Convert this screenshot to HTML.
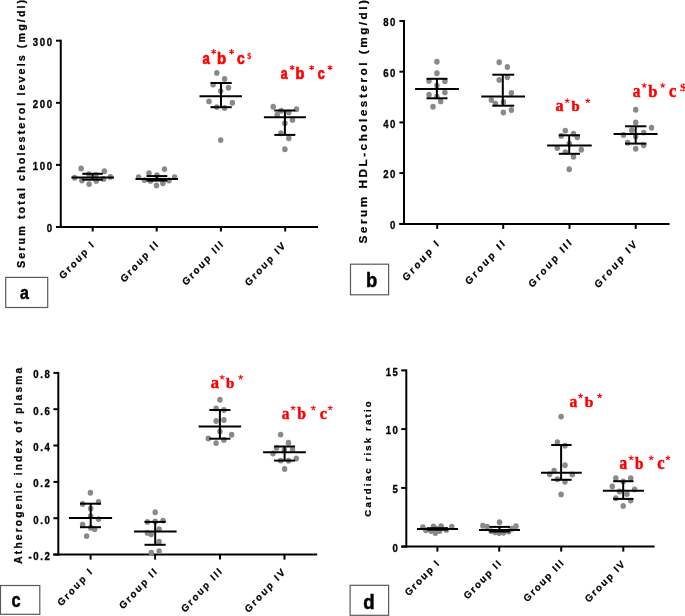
<!DOCTYPE html>
<html><head><meta charset="utf-8"><style>
html,body{margin:0;padding:0;background:#fff;}
body{width:685px;height:616px;overflow:hidden;}
svg{display:block;}
text{font-family:"Liberation Sans", sans-serif;font-weight:bold;}
.tk{font-size:9.6px;letter-spacing:1.6px;fill:#000;stroke:#000;stroke-width:0.3px;}
.gl{fill:#000;stroke:#000;stroke-width:0.25px;}
.yt{fill:#000;stroke:#000;stroke-width:0.25px;}
</style></head><body>
<svg width="685" height="616" viewBox="0 0 685 616" style="will-change:transform">
<line x1="60.75" y1="39.7" x2="60.75" y2="228.0" stroke="#000" stroke-width="2"/>
<line x1="56.0" y1="227.0" x2="318.0" y2="227.0" stroke="#000" stroke-width="2"/>
<line x1="56.0" y1="40.7" x2="60.75" y2="40.7" stroke="#000" stroke-width="2"/>
<text transform="translate(53.60,46.07) scale(1,1.08)" text-anchor="end" class="tk">300</text>
<line x1="56.0" y1="102.8" x2="60.75" y2="102.8" stroke="#000" stroke-width="2"/>
<text transform="translate(53.60,108.17) scale(1,1.08)" text-anchor="end" class="tk">200</text>
<line x1="56.0" y1="164.9" x2="60.75" y2="164.9" stroke="#000" stroke-width="2"/>
<text transform="translate(53.60,170.27) scale(1,1.08)" text-anchor="end" class="tk">100</text>
<line x1="56.0" y1="227.0" x2="60.75" y2="227.0" stroke="#000" stroke-width="2"/>
<text transform="translate(53.60,232.37) scale(1,1.08)" text-anchor="end" class="tk">0</text>
<line x1="92.7" y1="227.0" x2="92.7" y2="231.5" stroke="#000" stroke-width="2"/>
<line x1="156.7" y1="227.0" x2="156.7" y2="231.5" stroke="#000" stroke-width="2"/>
<line x1="220.9" y1="227.0" x2="220.9" y2="231.5" stroke="#000" stroke-width="2"/>
<line x1="285.2" y1="227.0" x2="285.2" y2="231.5" stroke="#000" stroke-width="2"/>
<ellipse cx="81.1" cy="168.4" rx="2.75" ry="2.94" fill="#898989"/>
<ellipse cx="104.4" cy="171.2" rx="2.75" ry="2.94" fill="#898989"/>
<ellipse cx="74.6" cy="177.7" rx="2.75" ry="2.94" fill="#898989"/>
<ellipse cx="110.4" cy="176.9" rx="2.75" ry="2.94" fill="#898989"/>
<ellipse cx="88.7" cy="174.1" rx="2.75" ry="2.94" fill="#898989"/>
<ellipse cx="95.9" cy="174.9" rx="2.75" ry="2.94" fill="#898989"/>
<ellipse cx="81.9" cy="180.5" rx="2.75" ry="2.94" fill="#898989"/>
<ellipse cx="89.1" cy="184.1" rx="2.75" ry="2.94" fill="#898989"/>
<ellipse cx="96.3" cy="180.9" rx="2.75" ry="2.94" fill="#898989"/>
<ellipse cx="103.6" cy="178.9" rx="2.75" ry="2.94" fill="#898989"/>
<ellipse cx="164.5" cy="169.1" rx="2.75" ry="2.94" fill="#898989"/>
<ellipse cx="149.0" cy="173.1" rx="2.75" ry="2.94" fill="#898989"/>
<ellipse cx="156.9" cy="175.3" rx="2.75" ry="2.94" fill="#898989"/>
<ellipse cx="138.6" cy="177.1" rx="2.75" ry="2.94" fill="#898989"/>
<ellipse cx="174.6" cy="177.1" rx="2.75" ry="2.94" fill="#898989"/>
<ellipse cx="144.5" cy="180.1" rx="2.75" ry="2.94" fill="#898989"/>
<ellipse cx="150.5" cy="180.9" rx="2.75" ry="2.94" fill="#898989"/>
<ellipse cx="169.0" cy="180.5" rx="2.75" ry="2.94" fill="#898989"/>
<ellipse cx="162.9" cy="183.3" rx="2.75" ry="2.94" fill="#898989"/>
<ellipse cx="156.5" cy="185.5" rx="2.75" ry="2.94" fill="#898989"/>
<ellipse cx="216.8" cy="72.9" rx="2.75" ry="2.94" fill="#898989"/>
<ellipse cx="224.6" cy="79.0" rx="2.75" ry="2.94" fill="#898989"/>
<ellipse cx="213.1" cy="84.6" rx="2.75" ry="2.94" fill="#898989"/>
<ellipse cx="228.5" cy="87.8" rx="2.75" ry="2.94" fill="#898989"/>
<ellipse cx="220.7" cy="91.1" rx="2.75" ry="2.94" fill="#898989"/>
<ellipse cx="209.0" cy="101.4" rx="2.75" ry="2.94" fill="#898989"/>
<ellipse cx="232.4" cy="102.7" rx="2.75" ry="2.94" fill="#898989"/>
<ellipse cx="216.8" cy="107.1" rx="2.75" ry="2.94" fill="#898989"/>
<ellipse cx="224.6" cy="108.0" rx="2.75" ry="2.94" fill="#898989"/>
<ellipse cx="220.7" cy="140.1" rx="2.75" ry="2.94" fill="#898989"/>
<ellipse cx="273.2" cy="106.8" rx="2.75" ry="2.94" fill="#898989"/>
<ellipse cx="281.1" cy="110.7" rx="2.75" ry="2.94" fill="#898989"/>
<ellipse cx="288.8" cy="112.4" rx="2.75" ry="2.94" fill="#898989"/>
<ellipse cx="296.5" cy="109.3" rx="2.75" ry="2.94" fill="#898989"/>
<ellipse cx="277.2" cy="114.7" rx="2.75" ry="2.94" fill="#898989"/>
<ellipse cx="292.5" cy="119.9" rx="2.75" ry="2.94" fill="#898989"/>
<ellipse cx="284.9" cy="123.3" rx="2.75" ry="2.94" fill="#898989"/>
<ellipse cx="280.9" cy="133.2" rx="2.75" ry="2.94" fill="#898989"/>
<ellipse cx="288.8" cy="138.3" rx="2.75" ry="2.94" fill="#898989"/>
<ellipse cx="284.9" cy="149.3" rx="2.75" ry="2.94" fill="#898989"/>
<line x1="71.4" y1="177.4" x2="114.0" y2="177.4" stroke="#000" stroke-width="2"/>
<line x1="82.3" y1="173.8" x2="102.8" y2="173.8" stroke="#000" stroke-width="2"/>
<line x1="82.3" y1="179.7" x2="102.8" y2="179.7" stroke="#000" stroke-width="2"/>
<line x1="92.5" y1="173.8" x2="92.5" y2="179.7" stroke="#000" stroke-width="2"/>
<line x1="135.5" y1="179.0" x2="178.0" y2="179.0" stroke="#000" stroke-width="2"/>
<line x1="146.5" y1="176.1" x2="167.3" y2="176.1" stroke="#000" stroke-width="2"/>
<line x1="146.5" y1="180.6" x2="167.3" y2="180.6" stroke="#000" stroke-width="2"/>
<line x1="156.9" y1="176.1" x2="156.9" y2="180.6" stroke="#000" stroke-width="2"/>
<line x1="199.5" y1="96.3" x2="241.9" y2="96.3" stroke="#000" stroke-width="2"/>
<line x1="210.5" y1="83.0" x2="231.7" y2="83.0" stroke="#000" stroke-width="2"/>
<line x1="210.5" y1="107.2" x2="231.7" y2="107.2" stroke="#000" stroke-width="2"/>
<line x1="221.0" y1="83.0" x2="221.0" y2="107.2" stroke="#000" stroke-width="2"/>
<line x1="263.9" y1="117.3" x2="305.9" y2="117.3" stroke="#000" stroke-width="2"/>
<line x1="274.3" y1="110.5" x2="295.3" y2="110.5" stroke="#000" stroke-width="2"/>
<line x1="274.3" y1="134.9" x2="295.3" y2="134.9" stroke="#000" stroke-width="2"/>
<line x1="284.9" y1="110.5" x2="284.9" y2="134.9" stroke="#000" stroke-width="2"/>
<text transform="translate(95.60,244.65) scale(1,1.08) rotate(-45)" text-anchor="end" style="font-size:9.4px;letter-spacing:1.8px" class="gl">Group I</text>
<text transform="translate(159.80,244.50) scale(1,1.08) rotate(-45)" text-anchor="end" style="font-size:9.4px;letter-spacing:1.8px" class="gl">Group II</text>
<text transform="translate(224.75,244.25) scale(1,1.08) rotate(-45)" text-anchor="end" style="font-size:9.4px;letter-spacing:1.8px" class="gl">Group III</text>
<text transform="translate(286.95,245.40) scale(1,1.08) rotate(-45)" text-anchor="end" style="font-size:9.4px;letter-spacing:1.8px" class="gl">Group IV</text>
<text transform="translate(24.50,268.00) scale(1,1.0) rotate(-90)" style="font-size:10.8px;letter-spacing:2.06px" class="yt">Serum total cholesterol levels (mg/dl)</text>
<line x1="404.0" y1="20.0" x2="404.0" y2="224.9" stroke="#000" stroke-width="2"/>
<line x1="399.4" y1="223.9" x2="669.6" y2="223.9" stroke="#000" stroke-width="2"/>
<line x1="399.4" y1="21.0" x2="404.0" y2="21.0" stroke="#000" stroke-width="2"/>
<text transform="translate(397.00,26.37) scale(1,1.08)" text-anchor="end" class="tk">80</text>
<line x1="399.4" y1="71.7" x2="404.0" y2="71.7" stroke="#000" stroke-width="2"/>
<text transform="translate(397.00,77.07) scale(1,1.08)" text-anchor="end" class="tk">60</text>
<line x1="399.4" y1="122.4" x2="404.0" y2="122.4" stroke="#000" stroke-width="2"/>
<text transform="translate(397.00,127.77) scale(1,1.08)" text-anchor="end" class="tk">40</text>
<line x1="399.4" y1="173.1" x2="404.0" y2="173.1" stroke="#000" stroke-width="2"/>
<text transform="translate(397.00,178.47) scale(1,1.08)" text-anchor="end" class="tk">20</text>
<line x1="399.4" y1="223.9" x2="404.0" y2="223.9" stroke="#000" stroke-width="2"/>
<text transform="translate(397.00,229.27) scale(1,1.08)" text-anchor="end" class="tk">0</text>
<line x1="437.2" y1="223.9" x2="437.2" y2="228.9" stroke="#000" stroke-width="2"/>
<line x1="503.2" y1="223.9" x2="503.2" y2="228.9" stroke="#000" stroke-width="2"/>
<line x1="569.5" y1="223.9" x2="569.5" y2="228.9" stroke="#000" stroke-width="2"/>
<line x1="635.7" y1="223.9" x2="635.7" y2="228.9" stroke="#000" stroke-width="2"/>
<ellipse cx="436.9" cy="61.7" rx="2.75" ry="2.94" fill="#898989"/>
<ellipse cx="436.9" cy="73.3" rx="2.75" ry="2.94" fill="#898989"/>
<ellipse cx="429.0" cy="80.9" rx="2.75" ry="2.94" fill="#898989"/>
<ellipse cx="444.9" cy="81.3" rx="2.75" ry="2.94" fill="#898989"/>
<ellipse cx="436.9" cy="85.6" rx="2.75" ry="2.94" fill="#898989"/>
<ellipse cx="444.9" cy="92.4" rx="2.75" ry="2.94" fill="#898989"/>
<ellipse cx="429.0" cy="94.7" rx="2.75" ry="2.94" fill="#898989"/>
<ellipse cx="436.9" cy="96.6" rx="2.75" ry="2.94" fill="#898989"/>
<ellipse cx="440.7" cy="101.4" rx="2.75" ry="2.94" fill="#898989"/>
<ellipse cx="433.0" cy="106.8" rx="2.75" ry="2.94" fill="#898989"/>
<ellipse cx="499.2" cy="62.3" rx="2.75" ry="2.94" fill="#898989"/>
<ellipse cx="507.4" cy="67.0" rx="2.75" ry="2.94" fill="#898989"/>
<ellipse cx="499.2" cy="79.9" rx="2.75" ry="2.94" fill="#898989"/>
<ellipse cx="507.4" cy="77.3" rx="2.75" ry="2.94" fill="#898989"/>
<ellipse cx="511.4" cy="93.0" rx="2.75" ry="2.94" fill="#898989"/>
<ellipse cx="491.3" cy="100.0" rx="2.75" ry="2.94" fill="#898989"/>
<ellipse cx="495.5" cy="103.6" rx="2.75" ry="2.94" fill="#898989"/>
<ellipse cx="503.4" cy="102.0" rx="2.75" ry="2.94" fill="#898989"/>
<ellipse cx="511.4" cy="110.0" rx="2.75" ry="2.94" fill="#898989"/>
<ellipse cx="503.4" cy="112.5" rx="2.75" ry="2.94" fill="#898989"/>
<ellipse cx="565.3" cy="130.7" rx="2.75" ry="2.94" fill="#898989"/>
<ellipse cx="573.5" cy="133.7" rx="2.75" ry="2.94" fill="#898989"/>
<ellipse cx="561.2" cy="135.9" rx="2.75" ry="2.94" fill="#898989"/>
<ellipse cx="577.3" cy="137.2" rx="2.75" ry="2.94" fill="#898989"/>
<ellipse cx="569.2" cy="143.7" rx="2.75" ry="2.94" fill="#898989"/>
<ellipse cx="557.3" cy="148.0" rx="2.75" ry="2.94" fill="#898989"/>
<ellipse cx="581.3" cy="149.8" rx="2.75" ry="2.94" fill="#898989"/>
<ellipse cx="565.3" cy="152.1" rx="2.75" ry="2.94" fill="#898989"/>
<ellipse cx="573.5" cy="156.7" rx="2.75" ry="2.94" fill="#898989"/>
<ellipse cx="569.2" cy="169.3" rx="2.75" ry="2.94" fill="#898989"/>
<ellipse cx="635.7" cy="109.7" rx="2.75" ry="2.94" fill="#898989"/>
<ellipse cx="635.7" cy="122.4" rx="2.75" ry="2.94" fill="#898989"/>
<ellipse cx="651.5" cy="127.8" rx="2.75" ry="2.94" fill="#898989"/>
<ellipse cx="631.8" cy="130.2" rx="2.75" ry="2.94" fill="#898989"/>
<ellipse cx="643.7" cy="132.6" rx="2.75" ry="2.94" fill="#898989"/>
<ellipse cx="623.5" cy="134.9" rx="2.75" ry="2.94" fill="#898989"/>
<ellipse cx="635.7" cy="136.5" rx="2.75" ry="2.94" fill="#898989"/>
<ellipse cx="627.6" cy="142.8" rx="2.75" ry="2.94" fill="#898989"/>
<ellipse cx="643.7" cy="145.3" rx="2.75" ry="2.94" fill="#898989"/>
<ellipse cx="635.7" cy="148.7" rx="2.75" ry="2.94" fill="#898989"/>
<line x1="415.1" y1="89.0" x2="458.9" y2="89.0" stroke="#000" stroke-width="2"/>
<line x1="426.5" y1="78.8" x2="447.5" y2="78.8" stroke="#000" stroke-width="2"/>
<line x1="426.5" y1="98.3" x2="447.5" y2="98.3" stroke="#000" stroke-width="2"/>
<line x1="436.9" y1="78.8" x2="436.9" y2="98.3" stroke="#000" stroke-width="2"/>
<line x1="481.25" y1="96.6" x2="525.0" y2="96.6" stroke="#000" stroke-width="2"/>
<line x1="492.3" y1="74.7" x2="514.2" y2="74.7" stroke="#000" stroke-width="2"/>
<line x1="492.3" y1="105.7" x2="514.2" y2="105.7" stroke="#000" stroke-width="2"/>
<line x1="502.8" y1="74.7" x2="502.8" y2="105.7" stroke="#000" stroke-width="2"/>
<line x1="547.1" y1="145.6" x2="591.7" y2="145.6" stroke="#000" stroke-width="2"/>
<line x1="558.8" y1="135.3" x2="580.0" y2="135.3" stroke="#000" stroke-width="2"/>
<line x1="558.8" y1="153.8" x2="580.0" y2="153.8" stroke="#000" stroke-width="2"/>
<line x1="569.2" y1="135.3" x2="569.2" y2="153.8" stroke="#000" stroke-width="2"/>
<line x1="613.6" y1="133.9" x2="657.6" y2="133.9" stroke="#000" stroke-width="2"/>
<line x1="625.0" y1="126.3" x2="646.4" y2="126.3" stroke="#000" stroke-width="2"/>
<line x1="625.0" y1="143.6" x2="646.4" y2="143.6" stroke="#000" stroke-width="2"/>
<line x1="635.7" y1="126.3" x2="635.7" y2="143.6" stroke="#000" stroke-width="2"/>
<text transform="translate(440.85,243.20) scale(1,1.12) rotate(-45)" text-anchor="end" style="font-size:9.4px;letter-spacing:2.2px" class="gl">Group I</text>
<text transform="translate(506.95,243.05) scale(1,1.12) rotate(-45)" text-anchor="end" style="font-size:9.4px;letter-spacing:2.2px" class="gl">Group II</text>
<text transform="translate(573.60,242.00) scale(1,1.12) rotate(-45)" text-anchor="end" style="font-size:9.4px;letter-spacing:2.2px" class="gl">Group III</text>
<text transform="translate(638.70,243.50) scale(1,1.12) rotate(-45)" text-anchor="end" style="font-size:9.4px;letter-spacing:2.2px" class="gl">Group IV</text>
<text transform="translate(366.80,243.50) scale(1,1.073) rotate(-90)" style="font-size:11.0px;letter-spacing:2.33px" class="yt">Serum HDL-cholesterol (mg/dl)</text>
<line x1="58.3" y1="371.9" x2="58.3" y2="555.6" stroke="#000" stroke-width="2"/>
<line x1="53.4" y1="554.6" x2="317.2" y2="554.6" stroke="#000" stroke-width="2"/>
<line x1="53.4" y1="372.9" x2="58.3" y2="372.9" stroke="#000" stroke-width="2"/>
<text transform="translate(51.50,378.27) scale(1,1.08)" text-anchor="end" class="tk">0.8</text>
<line x1="53.4" y1="409.2" x2="58.3" y2="409.2" stroke="#000" stroke-width="2"/>
<text transform="translate(51.50,414.57) scale(1,1.08)" text-anchor="end" class="tk">0.6</text>
<line x1="53.4" y1="445.5" x2="58.3" y2="445.5" stroke="#000" stroke-width="2"/>
<text transform="translate(51.50,450.87) scale(1,1.08)" text-anchor="end" class="tk">0.4</text>
<line x1="53.4" y1="481.9" x2="58.3" y2="481.9" stroke="#000" stroke-width="2"/>
<text transform="translate(51.50,487.27) scale(1,1.08)" text-anchor="end" class="tk">0.2</text>
<line x1="53.4" y1="518.2" x2="58.3" y2="518.2" stroke="#000" stroke-width="2"/>
<text transform="translate(51.50,523.57) scale(1,1.08)" text-anchor="end" class="tk">0.0</text>
<line x1="53.4" y1="554.6" x2="58.3" y2="554.6" stroke="#000" stroke-width="2"/>
<text transform="translate(51.50,559.97) scale(1,1.08)" text-anchor="end" class="tk">-0.2</text>
<line x1="90.6" y1="554.6" x2="90.6" y2="559.6" stroke="#000" stroke-width="2"/>
<line x1="155.1" y1="554.6" x2="155.1" y2="559.6" stroke="#000" stroke-width="2"/>
<line x1="220.0" y1="554.6" x2="220.0" y2="559.6" stroke="#000" stroke-width="2"/>
<line x1="284.5" y1="554.6" x2="284.5" y2="559.6" stroke="#000" stroke-width="2"/>
<ellipse cx="90.4" cy="492.8" rx="2.75" ry="2.94" fill="#898989"/>
<ellipse cx="82.6" cy="504.0" rx="2.75" ry="2.94" fill="#898989"/>
<ellipse cx="98.5" cy="502.0" rx="2.75" ry="2.94" fill="#898989"/>
<ellipse cx="90.7" cy="508.4" rx="2.75" ry="2.94" fill="#898989"/>
<ellipse cx="90.7" cy="516.2" rx="2.75" ry="2.94" fill="#898989"/>
<ellipse cx="98.5" cy="519.1" rx="2.75" ry="2.94" fill="#898989"/>
<ellipse cx="82.6" cy="524.7" rx="2.75" ry="2.94" fill="#898989"/>
<ellipse cx="90.7" cy="527.8" rx="2.75" ry="2.94" fill="#898989"/>
<ellipse cx="94.6" cy="529.3" rx="2.75" ry="2.94" fill="#898989"/>
<ellipse cx="86.6" cy="536.1" rx="2.75" ry="2.94" fill="#898989"/>
<ellipse cx="155.2" cy="512.2" rx="2.75" ry="2.94" fill="#898989"/>
<ellipse cx="147.4" cy="521.9" rx="2.75" ry="2.94" fill="#898989"/>
<ellipse cx="155.2" cy="521.4" rx="2.75" ry="2.94" fill="#898989"/>
<ellipse cx="163.0" cy="520.6" rx="2.75" ry="2.94" fill="#898989"/>
<ellipse cx="159.1" cy="529.2" rx="2.75" ry="2.94" fill="#898989"/>
<ellipse cx="147.4" cy="532.9" rx="2.75" ry="2.94" fill="#898989"/>
<ellipse cx="151.1" cy="534.3" rx="2.75" ry="2.94" fill="#898989"/>
<ellipse cx="159.1" cy="541.7" rx="2.75" ry="2.94" fill="#898989"/>
<ellipse cx="151.3" cy="552.8" rx="2.75" ry="2.94" fill="#898989"/>
<ellipse cx="159.1" cy="551.1" rx="2.75" ry="2.94" fill="#898989"/>
<ellipse cx="219.9" cy="399.7" rx="2.75" ry="2.94" fill="#898989"/>
<ellipse cx="216.1" cy="408.5" rx="2.75" ry="2.94" fill="#898989"/>
<ellipse cx="223.9" cy="410.0" rx="2.75" ry="2.94" fill="#898989"/>
<ellipse cx="216.1" cy="421.0" rx="2.75" ry="2.94" fill="#898989"/>
<ellipse cx="223.9" cy="420.0" rx="2.75" ry="2.94" fill="#898989"/>
<ellipse cx="219.9" cy="431.4" rx="2.75" ry="2.94" fill="#898989"/>
<ellipse cx="231.7" cy="434.8" rx="2.75" ry="2.94" fill="#898989"/>
<ellipse cx="208.3" cy="438.5" rx="2.75" ry="2.94" fill="#898989"/>
<ellipse cx="223.9" cy="439.9" rx="2.75" ry="2.94" fill="#898989"/>
<ellipse cx="216.1" cy="443.1" rx="2.75" ry="2.94" fill="#898989"/>
<ellipse cx="280.6" cy="434.6" rx="2.75" ry="2.94" fill="#898989"/>
<ellipse cx="288.5" cy="442.7" rx="2.75" ry="2.94" fill="#898989"/>
<ellipse cx="276.5" cy="448.0" rx="2.75" ry="2.94" fill="#898989"/>
<ellipse cx="284.3" cy="450.0" rx="2.75" ry="2.94" fill="#898989"/>
<ellipse cx="292.5" cy="449.7" rx="2.75" ry="2.94" fill="#898989"/>
<ellipse cx="273.0" cy="453.5" rx="2.75" ry="2.94" fill="#898989"/>
<ellipse cx="296.3" cy="458.5" rx="2.75" ry="2.94" fill="#898989"/>
<ellipse cx="280.6" cy="460.6" rx="2.75" ry="2.94" fill="#898989"/>
<ellipse cx="288.5" cy="460.8" rx="2.75" ry="2.94" fill="#898989"/>
<ellipse cx="284.6" cy="469.0" rx="2.75" ry="2.94" fill="#898989"/>
<line x1="69.0" y1="517.9" x2="112.1" y2="517.9" stroke="#000" stroke-width="2"/>
<line x1="80.0" y1="503.7" x2="101.0" y2="503.7" stroke="#000" stroke-width="2"/>
<line x1="80.0" y1="527.2" x2="101.0" y2="527.2" stroke="#000" stroke-width="2"/>
<line x1="90.7" y1="503.7" x2="90.7" y2="527.2" stroke="#000" stroke-width="2"/>
<line x1="134.0" y1="531.4" x2="176.6" y2="531.4" stroke="#000" stroke-width="2"/>
<line x1="144.5" y1="521.9" x2="165.7" y2="521.9" stroke="#000" stroke-width="2"/>
<line x1="144.5" y1="544.8" x2="165.7" y2="544.8" stroke="#000" stroke-width="2"/>
<line x1="155.2" y1="521.9" x2="155.2" y2="544.8" stroke="#000" stroke-width="2"/>
<line x1="198.6" y1="426.5" x2="241.1" y2="426.5" stroke="#000" stroke-width="2"/>
<line x1="209.3" y1="410.0" x2="230.4" y2="410.0" stroke="#000" stroke-width="2"/>
<line x1="209.3" y1="438.7" x2="230.4" y2="438.7" stroke="#000" stroke-width="2"/>
<line x1="219.9" y1="410.0" x2="219.9" y2="438.7" stroke="#000" stroke-width="2"/>
<line x1="263.1" y1="452.3" x2="305.8" y2="452.3" stroke="#000" stroke-width="2"/>
<line x1="274.1" y1="446.5" x2="295.1" y2="446.5" stroke="#000" stroke-width="2"/>
<line x1="274.1" y1="460.6" x2="295.1" y2="460.6" stroke="#000" stroke-width="2"/>
<line x1="284.6" y1="446.5" x2="284.6" y2="460.6" stroke="#000" stroke-width="2"/>
<text transform="translate(93.75,571.75) scale(1,1.08) rotate(-45)" text-anchor="end" style="font-size:9.4px;letter-spacing:1.8px" class="gl">Group I</text>
<text transform="translate(158.60,571.40) scale(1,1.08) rotate(-45)" text-anchor="end" style="font-size:9.4px;letter-spacing:1.8px" class="gl">Group II</text>
<text transform="translate(223.65,571.15) scale(1,1.08) rotate(-45)" text-anchor="end" style="font-size:9.4px;letter-spacing:1.8px" class="gl">Group III</text>
<text transform="translate(286.75,571.95) scale(1,1.08) rotate(-45)" text-anchor="end" style="font-size:9.4px;letter-spacing:1.8px" class="gl">Group IV</text>
<text transform="translate(21.70,563.70) scale(1,1.02) rotate(-90)" style="font-size:10.0px;letter-spacing:2.13px" class="yt">Atherogenic index of plasma</text>
<line x1="406.3" y1="369.4" x2="406.3" y2="547.6" stroke="#000" stroke-width="2"/>
<line x1="401.2" y1="546.6" x2="654.6" y2="546.6" stroke="#000" stroke-width="2"/>
<line x1="401.2" y1="370.4" x2="406.3" y2="370.4" stroke="#000" stroke-width="2"/>
<text transform="translate(399.50,375.77) scale(1,1.08)" text-anchor="end" class="tk">15</text>
<line x1="401.2" y1="429.1" x2="406.3" y2="429.1" stroke="#000" stroke-width="2"/>
<text transform="translate(399.50,434.47) scale(1,1.08)" text-anchor="end" class="tk">10</text>
<line x1="401.2" y1="487.9" x2="406.3" y2="487.9" stroke="#000" stroke-width="2"/>
<text transform="translate(399.50,493.27) scale(1,1.08)" text-anchor="end" class="tk">5</text>
<line x1="401.2" y1="546.6" x2="406.3" y2="546.6" stroke="#000" stroke-width="2"/>
<text transform="translate(399.50,551.97) scale(1,1.08)" text-anchor="end" class="tk">0</text>
<line x1="437.4" y1="546.6" x2="437.4" y2="551.6" stroke="#000" stroke-width="2"/>
<line x1="499.2" y1="546.6" x2="499.2" y2="551.6" stroke="#000" stroke-width="2"/>
<line x1="561.2" y1="546.6" x2="561.2" y2="551.6" stroke="#000" stroke-width="2"/>
<line x1="623.3" y1="546.6" x2="623.3" y2="551.6" stroke="#000" stroke-width="2"/>
<ellipse cx="422.8" cy="527.2" rx="2.75" ry="2.94" fill="#898989"/>
<ellipse cx="433.5" cy="526.4" rx="2.75" ry="2.94" fill="#898989"/>
<ellipse cx="441.2" cy="526.1" rx="2.75" ry="2.94" fill="#898989"/>
<ellipse cx="451.8" cy="526.8" rx="2.75" ry="2.94" fill="#898989"/>
<ellipse cx="425.9" cy="530.2" rx="2.75" ry="2.94" fill="#898989"/>
<ellipse cx="431.0" cy="531.0" rx="2.75" ry="2.94" fill="#898989"/>
<ellipse cx="435.4" cy="533.1" rx="2.75" ry="2.94" fill="#898989"/>
<ellipse cx="439.7" cy="531.0" rx="2.75" ry="2.94" fill="#898989"/>
<ellipse cx="446.3" cy="529.9" rx="2.75" ry="2.94" fill="#898989"/>
<ellipse cx="437.4" cy="529.0" rx="2.75" ry="2.94" fill="#898989"/>
<ellipse cx="499.5" cy="522.2" rx="2.75" ry="2.94" fill="#898989"/>
<ellipse cx="482.9" cy="525.8" rx="2.75" ry="2.94" fill="#898989"/>
<ellipse cx="487.0" cy="526.6" rx="2.75" ry="2.94" fill="#898989"/>
<ellipse cx="516.0" cy="526.2" rx="2.75" ry="2.94" fill="#898989"/>
<ellipse cx="512.0" cy="528.7" rx="2.75" ry="2.94" fill="#898989"/>
<ellipse cx="495.1" cy="532.3" rx="2.75" ry="2.94" fill="#898989"/>
<ellipse cx="499.1" cy="533.1" rx="2.75" ry="2.94" fill="#898989"/>
<ellipse cx="503.5" cy="532.7" rx="2.75" ry="2.94" fill="#898989"/>
<ellipse cx="491.1" cy="531.1" rx="2.75" ry="2.94" fill="#898989"/>
<ellipse cx="508.7" cy="531.5" rx="2.75" ry="2.94" fill="#898989"/>
<ellipse cx="561.1" cy="416.6" rx="2.75" ry="2.94" fill="#898989"/>
<ellipse cx="557.4" cy="442.1" rx="2.75" ry="2.94" fill="#898989"/>
<ellipse cx="565.0" cy="445.8" rx="2.75" ry="2.94" fill="#898989"/>
<ellipse cx="565.0" cy="465.2" rx="2.75" ry="2.94" fill="#898989"/>
<ellipse cx="554.1" cy="470.6" rx="2.75" ry="2.94" fill="#898989"/>
<ellipse cx="549.7" cy="474.2" rx="2.75" ry="2.94" fill="#898989"/>
<ellipse cx="572.3" cy="474.5" rx="2.75" ry="2.94" fill="#898989"/>
<ellipse cx="557.4" cy="479.3" rx="2.75" ry="2.94" fill="#898989"/>
<ellipse cx="565.0" cy="481.8" rx="2.75" ry="2.94" fill="#898989"/>
<ellipse cx="561.1" cy="494.4" rx="2.75" ry="2.94" fill="#898989"/>
<ellipse cx="615.8" cy="478.3" rx="2.75" ry="2.94" fill="#898989"/>
<ellipse cx="630.7" cy="478.3" rx="2.75" ry="2.94" fill="#898989"/>
<ellipse cx="623.2" cy="481.4" rx="2.75" ry="2.94" fill="#898989"/>
<ellipse cx="612.3" cy="486.5" rx="2.75" ry="2.94" fill="#898989"/>
<ellipse cx="634.6" cy="489.4" rx="2.75" ry="2.94" fill="#898989"/>
<ellipse cx="619.5" cy="491.5" rx="2.75" ry="2.94" fill="#898989"/>
<ellipse cx="627.0" cy="494.1" rx="2.75" ry="2.94" fill="#898989"/>
<ellipse cx="615.8" cy="498.2" rx="2.75" ry="2.94" fill="#898989"/>
<ellipse cx="630.7" cy="500.6" rx="2.75" ry="2.94" fill="#898989"/>
<ellipse cx="623.2" cy="505.9" rx="2.75" ry="2.94" fill="#898989"/>
<line x1="417.0" y1="528.9" x2="458.0" y2="528.9" stroke="#000" stroke-width="2"/>
<line x1="427.0" y1="528.2" x2="447.8" y2="528.2" stroke="#000" stroke-width="2"/>
<line x1="427.0" y1="529.7" x2="447.8" y2="529.7" stroke="#000" stroke-width="2"/>
<line x1="437.4" y1="528.2" x2="437.4" y2="529.7" stroke="#000" stroke-width="2"/>
<line x1="479.0" y1="529.9" x2="520.0" y2="529.9" stroke="#000" stroke-width="2"/>
<line x1="489.3" y1="526.9" x2="509.9" y2="526.9" stroke="#000" stroke-width="2"/>
<line x1="489.3" y1="531.5" x2="509.9" y2="531.5" stroke="#000" stroke-width="2"/>
<line x1="499.5" y1="526.9" x2="499.5" y2="531.5" stroke="#000" stroke-width="2"/>
<line x1="541.0" y1="472.8" x2="581.8" y2="472.8" stroke="#000" stroke-width="2"/>
<line x1="551.2" y1="445.0" x2="571.6" y2="445.0" stroke="#000" stroke-width="2"/>
<line x1="551.2" y1="479.8" x2="571.6" y2="479.8" stroke="#000" stroke-width="2"/>
<line x1="561.1" y1="445.0" x2="561.1" y2="479.8" stroke="#000" stroke-width="2"/>
<line x1="602.9" y1="490.8" x2="643.9" y2="490.8" stroke="#000" stroke-width="2"/>
<line x1="613.2" y1="481.2" x2="633.5" y2="481.2" stroke="#000" stroke-width="2"/>
<line x1="613.2" y1="498.9" x2="633.5" y2="498.9" stroke="#000" stroke-width="2"/>
<line x1="623.2" y1="481.2" x2="623.2" y2="498.9" stroke="#000" stroke-width="2"/>
<text transform="translate(440.70,563.25) scale(1,1.04) rotate(-45)" text-anchor="end" style="font-size:9.6px;letter-spacing:1.6px" class="gl">Group I</text>
<text transform="translate(502.65,563.35) scale(1,1.04) rotate(-45)" text-anchor="end" style="font-size:9.6px;letter-spacing:1.6px" class="gl">Group II</text>
<text transform="translate(565.30,562.95) scale(1,1.04) rotate(-45)" text-anchor="end" style="font-size:9.6px;letter-spacing:1.6px" class="gl">Group III</text>
<text transform="translate(626.35,563.80) scale(1,1.04) rotate(-45)" text-anchor="end" style="font-size:9.6px;letter-spacing:1.6px" class="gl">Group IV</text>
<text transform="translate(370.90,516.70) scale(1,1.0) rotate(-90)" style="font-size:9.6px;letter-spacing:2.17px" class="yt">Cardiac risk ratio</text>
<text transform="translate(202.42,64.04) scale(0.799,1)" style='font-family:"Liberation Sans", sans-serif;font-size:16.43px' fill="#ff0000" stroke="#ff0000" stroke-width="0.7">a</text>
<text transform="translate(216.92,64.04) scale(0.934,1)" style='font-family:"Liberation Sans", sans-serif;font-size:15.93px' fill="#ff0000" stroke="#ff0000" stroke-width="0.7">b</text>
<text transform="translate(237.06,64.04) scale(0.849,1)" style='font-family:"Liberation Sans", sans-serif;font-size:16.43px' fill="#ff0000" stroke="#ff0000" stroke-width="0.7">c</text>
<text transform="translate(247.31,59.18) scale(0.840,1)" style='font-family:"Liberation Sans", sans-serif;font-size:8.33px' fill="#ff0000" stroke="#ff0000" stroke-width="0.1">$</text>
<text transform="translate(280.84,79.14) scale(0.750,1)" style='font-family:"Liberation Sans", sans-serif;font-size:16.25px' fill="#ff0000" stroke="#ff0000" stroke-width="0.7">a</text>
<text transform="translate(295.55,79.14) scale(0.909,1)" style='font-family:"Liberation Sans", sans-serif;font-size:15.93px' fill="#ff0000" stroke="#ff0000" stroke-width="0.7">b</text>
<text transform="translate(317.71,79.14) scale(0.770,1)" style='font-family:"Liberation Sans", sans-serif;font-size:16.25px' fill="#ff0000" stroke="#ff0000" stroke-width="0.7">c</text>
<text transform="translate(555.49,111.44) scale(0.977,1)" style='font-family:"Liberation Serif", serif;font-size:16.28px' fill="#ff0000" stroke="#ff0000" stroke-width="0.5">a</text>
<text transform="translate(571.61,111.46) scale(1.015,1)" style='font-family:"Liberation Serif", serif;font-size:14.50px' fill="#ff0000" stroke="#ff0000" stroke-width="0.5">b</text>
<text transform="translate(632.71,96.92) scale(0.830,1)" style='font-family:"Liberation Serif", serif;font-size:18.37px' fill="#ff0000" stroke="#ff0000" stroke-width="0.5">a</text>
<text transform="translate(648.19,96.93) scale(0.960,1)" style='font-family:"Liberation Serif", serif;font-size:17.20px' fill="#ff0000" stroke="#ff0000" stroke-width="0.5">b</text>
<text transform="translate(669.04,96.93) scale(0.894,1)" style='font-family:"Liberation Serif", serif;font-size:18.32px' fill="#ff0000" stroke="#ff0000" stroke-width="0.5">c</text>
<text transform="translate(679.93,90.75) scale(1.175,1)" style='font-family:"Liberation Serif", serif;font-size:11.12px' fill="#ff0000" stroke="#ff0000" stroke-width="0.1">$</text>
<text transform="translate(210.67,387.83) scale(0.980,1)" style='font-family:"Liberation Serif", serif;font-size:16.91px' fill="#ff0000" stroke="#ff0000" stroke-width="0.5">a</text>
<text transform="translate(226.11,387.85) scale(0.990,1)" style='font-family:"Liberation Serif", serif;font-size:15.07px' fill="#ff0000" stroke="#ff0000" stroke-width="0.5">b</text>
<text transform="translate(281.81,419.43) scale(0.880,1)" style='font-family:"Liberation Serif", serif;font-size:17.33px' fill="#ff0000" stroke="#ff0000" stroke-width="0.5">a</text>
<text transform="translate(297.30,419.44) scale(0.978,1)" style='font-family:"Liberation Serif", serif;font-size:16.06px' fill="#ff0000" stroke="#ff0000" stroke-width="0.5">b</text>
<text transform="translate(319.74,419.44) scale(0.948,1)" style='font-family:"Liberation Serif", serif;font-size:17.27px' fill="#ff0000" stroke="#ff0000" stroke-width="0.5">c</text>
<text transform="translate(569.40,406.83) scale(0.872,1)" style='font-family:"Liberation Serif", serif;font-size:17.75px' fill="#ff0000" stroke="#ff0000" stroke-width="0.5">a</text>
<text transform="translate(584.80,406.85) scale(1.010,1)" style='font-family:"Liberation Serif", serif;font-size:15.35px' fill="#ff0000" stroke="#ff0000" stroke-width="0.5">b</text>
<text transform="translate(619.61,469.32) scale(0.820,1)" style='font-family:"Liberation Serif", serif;font-size:18.58px' fill="#ff0000" stroke="#ff0000" stroke-width="0.5">a</text>
<text transform="translate(635.01,469.35) scale(0.958,1)" style='font-family:"Liberation Serif", serif;font-size:15.78px' fill="#ff0000" stroke="#ff0000" stroke-width="0.5">b</text>
<text transform="translate(657.33,469.33) scale(0.898,1)" style='font-family:"Liberation Serif", serif;font-size:18.52px' fill="#ff0000" stroke="#ff0000" stroke-width="0.5">c</text>
<path d="M213.70 53.85L213.70 49.55M211.84 52.78L215.56 50.62M215.56 52.78L211.84 50.62" stroke="#ff0000" stroke-width="1.1" stroke-linecap="round" fill="none"/>
<path d="M231.60 53.85L231.60 49.55M229.74 52.78L233.46 50.62M233.46 52.78L229.74 50.62" stroke="#ff0000" stroke-width="1.1" stroke-linecap="round" fill="none"/>
<path d="M292.20 69.75L292.20 65.45M290.34 68.67L294.06 66.52M294.06 68.67L290.34 66.52" stroke="#ff0000" stroke-width="1.1" stroke-linecap="round" fill="none"/>
<path d="M311.70 69.75L311.70 65.45M309.84 68.67L313.56 66.52M313.56 68.67L309.84 66.52" stroke="#ff0000" stroke-width="1.1" stroke-linecap="round" fill="none"/>
<path d="M330.00 69.75L330.00 65.45M328.14 68.67L331.86 66.52M331.86 68.67L328.14 66.52" stroke="#ff0000" stroke-width="1.1" stroke-linecap="round" fill="none"/>
<path d="M567.25 100.80L567.25 98.70M567.25 100.80L565.25 100.15M567.25 100.80L566.02 102.50M567.25 100.80L568.48 102.50M567.25 100.80L569.25 100.15" stroke="#ff0000" stroke-width="1.05" stroke-linecap="round" fill="none" opacity="1.0"/>
<path d="M587.75 100.80L587.75 98.70M587.75 100.80L585.75 100.15M587.75 100.80L586.52 102.50M587.75 100.80L588.98 102.50M587.75 100.80L589.75 100.15" stroke="#ff0000" stroke-width="1.05" stroke-linecap="round" fill="none" opacity="1.0"/>
<path d="M644.20 85.40L644.20 83.30M644.20 85.40L642.20 84.75M644.20 85.40L642.97 87.10M644.20 85.40L645.43 87.10M644.20 85.40L646.20 84.75" stroke="#ff0000" stroke-width="1.05" stroke-linecap="round" fill="none" opacity="1.0"/>
<path d="M662.75 85.40L662.75 83.30M662.75 85.40L660.75 84.75M662.75 85.40L661.52 87.10M662.75 85.40L663.98 87.10M662.75 85.40L664.75 84.75" stroke="#ff0000" stroke-width="1.05" stroke-linecap="round" fill="none" opacity="1.0"/>
<path d="M222.10 377.30L222.10 375.20M222.10 377.30L220.10 376.65M222.10 377.30L220.87 379.00M222.10 377.30L223.33 379.00M222.10 377.30L224.10 376.65" stroke="#ff0000" stroke-width="1.05" stroke-linecap="round" fill="none" opacity="1.0"/>
<path d="M240.70 377.30L240.70 375.20M240.70 377.30L238.70 376.65M240.70 377.30L239.47 379.00M240.70 377.30L241.93 379.00M240.70 377.30L242.70 376.65" stroke="#ff0000" stroke-width="1.05" stroke-linecap="round" fill="none" opacity="1.0"/>
<path d="M293.10 408.00L293.10 405.90M293.10 408.00L291.10 407.35M293.10 408.00L291.87 409.70M293.10 408.00L294.33 409.70M293.10 408.00L295.10 407.35" stroke="#ff0000" stroke-width="1.05" stroke-linecap="round" fill="none" opacity="1.0"/>
<path d="M313.30 408.00L313.30 405.90M313.30 408.00L311.30 407.35M313.30 408.00L312.07 409.70M313.30 408.00L314.53 409.70M313.30 408.00L315.30 407.35" stroke="#ff0000" stroke-width="1.05" stroke-linecap="round" fill="none" opacity="1.0"/>
<path d="M330.20 408.00L330.20 405.90M330.20 408.00L328.20 407.35M330.20 408.00L328.97 409.70M330.20 408.00L331.43 409.70M330.20 408.00L332.20 407.35" stroke="#ff0000" stroke-width="1.05" stroke-linecap="round" fill="none" opacity="1.0"/>
<path d="M580.50 395.90L580.50 393.80M580.50 395.90L578.50 395.25M580.50 395.90L579.27 397.60M580.50 395.90L581.73 397.60M580.50 395.90L582.50 395.25" stroke="#ff0000" stroke-width="1.05" stroke-linecap="round" fill="none" opacity="1.0"/>
<path d="M599.70 395.90L599.70 393.80M599.70 395.90L597.70 395.25M599.70 395.90L598.47 397.60M599.70 395.90L600.93 397.60M599.70 395.90L601.70 395.25" stroke="#ff0000" stroke-width="1.05" stroke-linecap="round" fill="none" opacity="1.0"/>
<path d="M631.10 457.90L631.10 455.80M631.10 457.90L629.10 457.25M631.10 457.90L629.87 459.60M631.10 457.90L632.33 459.60M631.10 457.90L633.10 457.25" stroke="#ff0000" stroke-width="1.05" stroke-linecap="round" fill="none" opacity="1.0"/>
<path d="M651.20 457.90L651.20 455.80M651.20 457.90L649.20 457.25M651.20 457.90L649.97 459.60M651.20 457.90L652.43 459.60M651.20 457.90L653.20 457.25" stroke="#ff0000" stroke-width="1.05" stroke-linecap="round" fill="none" opacity="1.0"/>
<path d="M667.90 457.90L667.90 455.80M667.90 457.90L665.90 457.25M667.90 457.90L666.67 459.60M667.90 457.90L669.13 459.60M667.90 457.90L669.90 457.25" stroke="#ff0000" stroke-width="1.05" stroke-linecap="round" fill="none" opacity="1.0"/>
<rect x="5.7" y="277.4" width="42.00" height="30.10" fill="none" stroke="#5a5a5a" stroke-width="1.2"/>
<text transform="translate(19.93,298.71) scale(0.832,1)" style='font-family:"Liberation Sans", sans-serif;font-size:19.17px' fill="#000" stroke="#000" stroke-width="0.5">a</text>
<rect x="350.5" y="264.2" width="38.10" height="30.60" fill="none" stroke="#5a5a5a" stroke-width="1.2"/>
<text transform="translate(365.88,286.80) scale(0.904,1)" style='font-family:"Liberation Sans", sans-serif;font-size:20.43px' fill="#000" stroke="#000" stroke-width="0.5">b</text>
<rect x="0.5" y="585.5" width="39.30" height="28.80" fill="none" stroke="#5a5a5a" stroke-width="1.2"/>
<text transform="translate(11.56,606.81) scale(0.848,1)" style='font-family:"Liberation Sans", sans-serif;font-size:19.35px' fill="#000" stroke="#000" stroke-width="0.5">c</text>
<rect x="350.1" y="585.3" width="38.50" height="30.00" fill="none" stroke="#5a5a5a" stroke-width="1.2"/>
<text transform="translate(363.13,609.01) scale(0.945,1)" style='font-family:"Liberation Sans", sans-serif;font-size:19.74px' fill="#000" stroke="#000" stroke-width="0.5">d</text>
</svg>
</body></html>
